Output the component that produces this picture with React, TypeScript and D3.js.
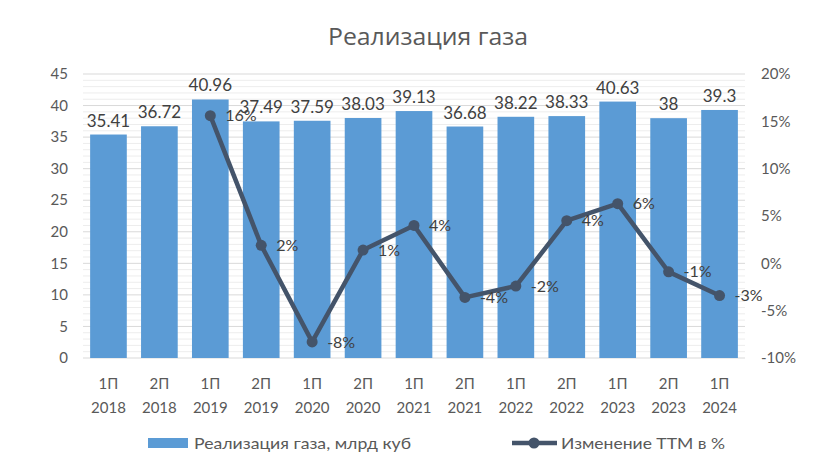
import React from "react";
import * as d3 from "d3";

const periods = ["1П", "2П", "1П", "2П", "1П", "2П", "1П", "2П", "1П", "2П", "1П", "2П", "1П"];
const years = ["2018", "2018", "2019", "2019", "2020", "2020", "2021", "2021", "2022", "2022", "2023", "2023", "2024"];
const sales = [35.41, 36.72, 40.96, 37.49, 37.59, 38.03, 39.13, 36.68, 38.22, 38.33, 40.63, 38, 39.3];
const changePct = [null, null, 15.6, 1.9, -8.3, 1.4, 4.0, -3.6, -2.4, 4.5, 6.3, -0.9, -3.4];
const changeLabels = ["", "", "16%", "2%", "-8%", "1%", "4%", "-4%", "-2%", "4%", "6%", "-1%", "-3%"];
const leftTicks = [0, 5, 10, 15, 20, 25, 30, 35, 40, 45];
const rightTicks = [-10, -5, 0, 5, 10, 15, 20];

const W = 835, H = 474;
const M = { left: 83, right: 745, top: 74, bottom: 358 };
const FONT = "Lato, 'Open Sans', sans-serif";

export default function App() {
  const keys = sales.map((_, i) => String(i));
  const x = d3.scaleBand().domain(keys).range([M.left, M.right]).paddingInner(0.28).paddingOuter(0.14);
  const y = d3.scaleLinear().domain([0, 45]).range([M.bottom, M.top]);
  const y2 = d3.scaleLinear().domain([-10, 20]).range([M.bottom, M.top]);
  const minor = d3.range(0, 46, 1).filter((v) => v % 5 !== 0);
  const pts = changePct
    .map((v, i) => ({ v, i }))
    .filter((d) => d.v !== null) as { v: number; i: number }[];
  const cx = (i: number) => (x(String(i)) as number) + x.bandwidth() / 2;
  const line = d3
    .line<{ v: number; i: number }>()
    .x((d) => cx(d.i))
    .y((d) => y2(d.v));

  return (
    <svg width={W} height={H} style={{ display: "block", position: "absolute", left: 0, top: 0, background: "#fff" }} fontFamily={FONT}>
      <rect width={W} height={H} fill="#fff" />
      <text x={428} y={45} textAnchor="middle" fontSize={24} fill="#595959" fontFamily="'Open Sans', sans-serif" textLength={200} lengthAdjust="spacingAndGlyphs">Реализация газа</text>
      {minor.map((v) => (
        <line key={"m" + v} x1={M.left} x2={M.right} y1={y(v)} y2={y(v)} stroke="#ededed" strokeWidth={1} />
      ))}
      {leftTicks.map((v) => (
        <line key={"g" + v} x1={M.left} x2={M.right} y1={y(v)} y2={y(v)} stroke="#d9d9d9" strokeWidth={1} />
      ))}
      {leftTicks.map((v) => (
        <text key={"l" + v} x={68} y={y(v)} dy="0.35em" textAnchor="end" fontSize={15} fill="#595959">{v}</text>
      ))}
      {rightTicks.map((v) => (
        <text key={"r" + v} x={761} y={y2(v)} dy="0.35em" textAnchor="start" fontSize={15} fill="#595959">{v + "%"}</text>
      ))}
      {sales.map((v, i) => (
        <rect key={"b" + i} x={x(String(i))} y={y(v)} width={x.bandwidth()} height={y(0) - y(v)} fill="#5B9BD5" />
      ))}
      {sales.map((v, i) => (
        <text key={"bl" + i} x={cx(i)} y={y(v) - 8} textAnchor="middle" fontSize={17} fill="#404040">{String(v)}</text>
      ))}
      <path d={line(pts) || ""} fill="none" stroke="#44546A" strokeWidth={4.5} strokeLinejoin="round" />
      {pts.map((d) => (
        <circle key={"c" + d.i} cx={cx(d.i)} cy={y2(d.v)} r={5.5} fill="#44546A" />
      ))}
      {pts.map((d) => (
        <text key={"pl" + d.i} x={cx(d.i) + 15} y={y2(d.v)} dy="0.35em" fontSize={16} fill="#404040">{changeLabels[d.i]}</text>
      ))}
      {sales.map((_, i) => (
        <g key={"x" + i}>
          <text x={cx(i)} y={389} textAnchor="middle" fontSize={15} fill="#595959">{periods[i]}</text>
          <text x={cx(i)} y={413} textAnchor="middle" fontSize={15} fill="#595959">{years[i]}</text>
        </g>
      ))}
      <rect x={148} y={438} width={40} height={10} fill="#5B9BD5" />
      <text x={194} y={443} dy="0.35em" fontSize={16} fill="#595959" textLength={217} lengthAdjust="spacingAndGlyphs">Реализация газа, млрд куб</text>
      <line x1={512} x2={557} y1={443} y2={443} stroke="#44546A" strokeWidth={4.5} />
      <circle cx={534} cy={443} r={5.5} fill="#44546A" />
      <text x={561} y={443} dy="0.35em" fontSize={16} fill="#595959" textLength={164} lengthAdjust="spacingAndGlyphs">Изменение ТТМ в %</text>
    </svg>
  );
}
